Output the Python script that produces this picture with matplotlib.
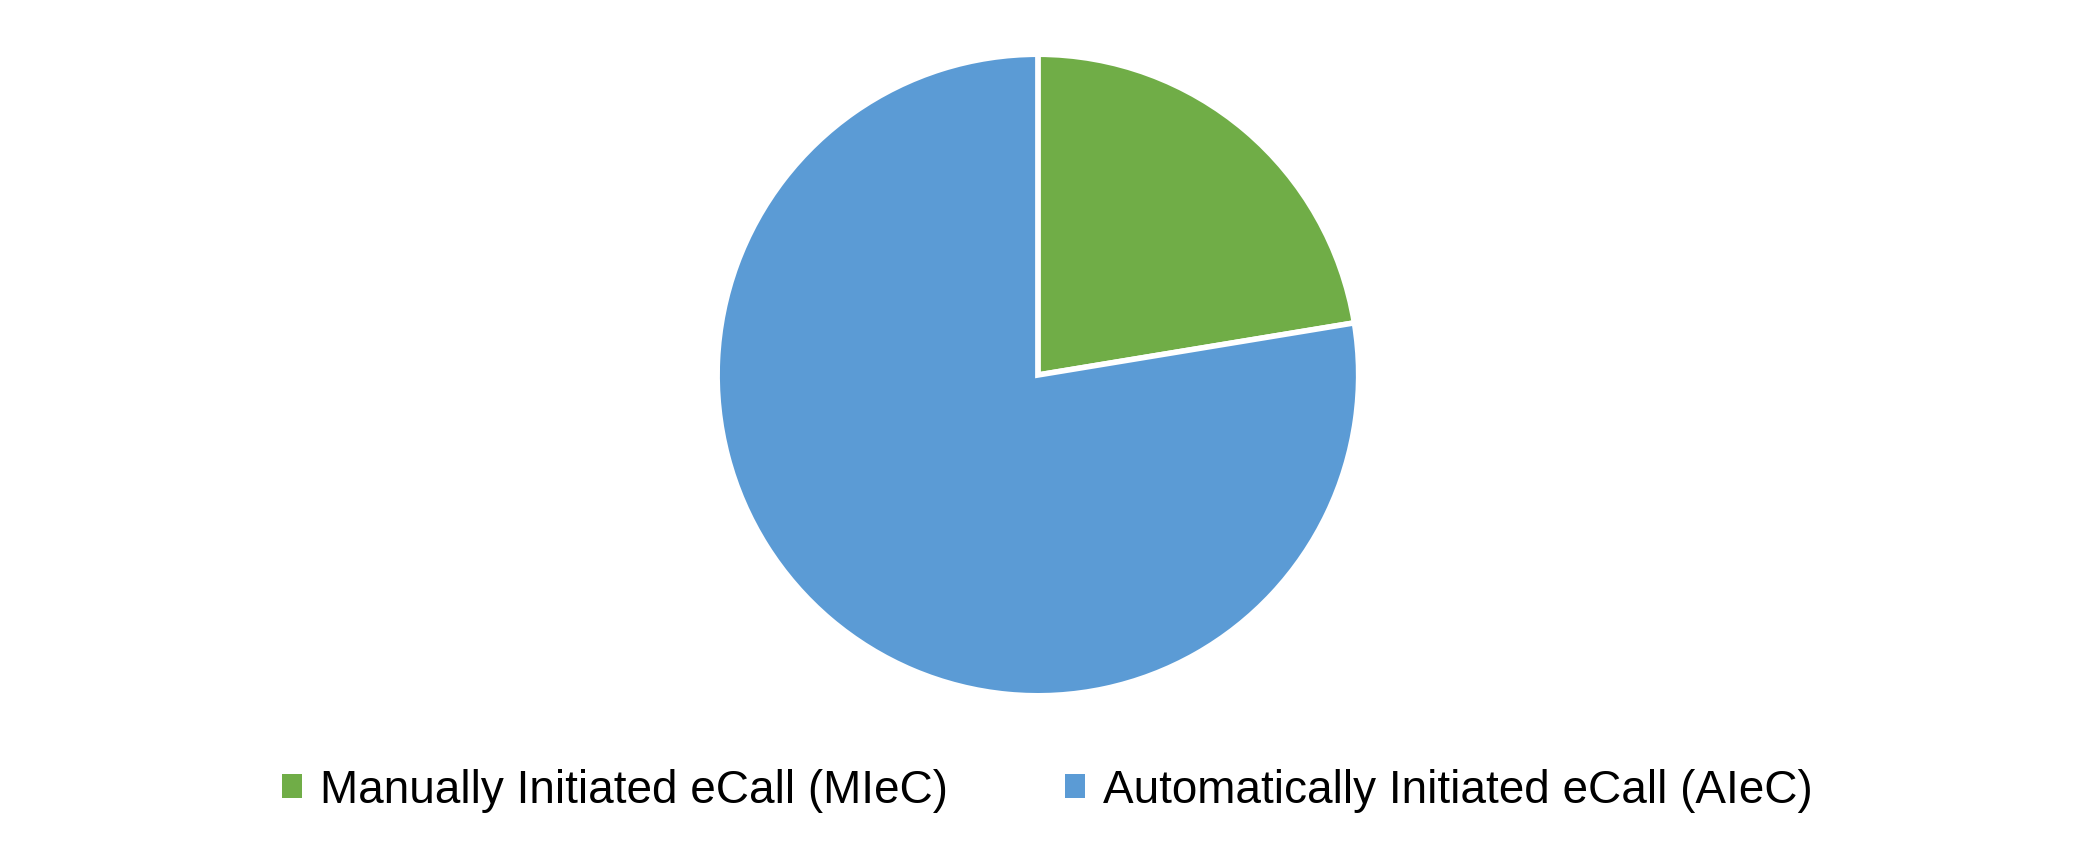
import matplotlib.pyplot as plt

labels = ["Manually Initiated eCall (MIeC)", "Automatically Initiated eCall (AIeC)"]
shares = [22.4, 77.6]
colors = ["#70AD47", "#5B9BD5"]

plt.rcParams['font.family'] = ['Liberation Sans', 'DejaVu Sans']

fig = plt.figure(figsize=(20.76, 8.63), dpi=100)
# pie centred at about (1038, 375) px, radius ~324 px
ax = fig.add_axes([0.3439, 0.190, 0.3121, 0.7509])
wedges, _ = ax.pie(shares, colors=colors, startangle=90, counterclock=False,
                   wedgeprops=dict(edgecolor='white', linewidth=4))
ax.set_xlim(-1.01, 1.01)
ax.set_ylim(-1.01, 1.01)
ax.set_aspect('equal')

leg = fig.legend(wedges, labels, loc='center', bbox_to_anchor=(0.5045, 0.084),
                 ncol=2, frameon=False, fontsize=33, handlelength=0.44,
                 handleheight=0.44, handletextpad=0.4, columnspacing=2.55)
for h in leg.legend_handles:
    h.set_edgecolor('none')

fig.savefig("out.png", dpi=100)
